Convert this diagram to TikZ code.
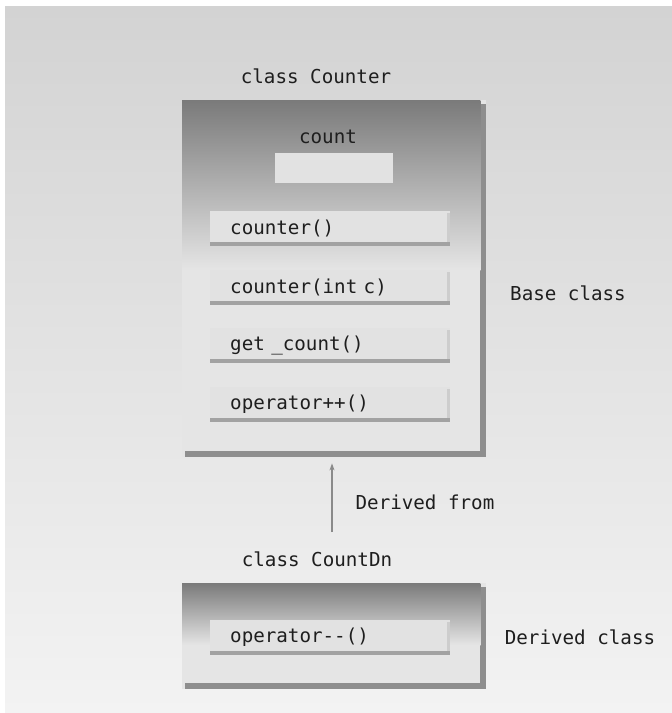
\documentclass[tikz,border=0pt]{standalone}
\usepackage{fontspec}
\setmainfont[WordSpace={1,0,0}]{DejaVu Sans Mono}
\setmonofont{DejaVu Sans Mono}
\usetikzlibrary{arrows.meta}
\definecolor{bgtop}{HTML}{D3D3D3}
\definecolor{bgbot}{HTML}{F3F3F3}
\definecolor{boxtop}{HTML}{7A7A7A}
\definecolor{boxbot}{HTML}{E5E5E5}
\definecolor{boxshadow}{HTML}{8E8E8E}
\definecolor{methfill}{HTML}{E2E2E2}
\definecolor{methshadow}{HTML}{A2A2A2}
\definecolor{methright}{HTML}{CDCDCD}
\definecolor{txt}{HTML}{1E1E1E}
\definecolor{arrowc}{HTML}{8A8A8A}
\tikzset{
  lbl/.style={font=\fontsize{19.2}{23}\selectfont, text=txt, inner sep=0pt},
  classbox/.style={fill=boxbot, inner sep=0pt, anchor=north west,
    path picture={
      \fill[boxshadow] ([xshift=-6pt,yshift=-4pt]path picture bounding box.north east) rectangle (path picture bounding box.south east);
      \fill[boxshadow] ([xshift=3pt]path picture bounding box.south west) rectangle ([yshift=6pt]path picture bounding box.south east);
    }},
  boxgrad/.style={top color=boxtop, bottom color=boxbot},
  methbox/.style={fill=methfill, anchor=north west, minimum width=240pt, minimum height=35pt,
    text width=200pt, align=left, inner xsep=20pt, inner ysep=0pt,
    font=\fontsize{19.2}{23}\selectfont, text=txt,
    path picture={
      \fill[methright] ([xshift=-3pt,yshift=-2pt]path picture bounding box.north east) rectangle (path picture bounding box.south east);
      \fill[methshadow] (path picture bounding box.south west) rectangle ([yshift=4pt]path picture bounding box.south east);
    }},
  fieldbox/.style={fill=methfill, anchor=north west, minimum width=118pt, minimum height=30pt, inner sep=0pt},
  inherit/.style={draw=arrowc, line width=1.8pt, -{Stealth[length=7pt,width=5pt]}}
}
\begin{document}
\begin{tikzpicture}[x=1pt,y=-1pt]
\useasboundingbox (0,0) rectangle (672,713);
\fill[white] (0,0) rectangle (672,713);
\shade[top color=bgtop, bottom color=bgbot] (5,6) rectangle (672,713);

% base class
\node[lbl] (cntlabel) at (316,76) {class Counter};
\node[classbox, minimum width=304pt, minimum height=357pt] (counter) at (182,100) {};
\shade[boxgrad] (counter.north west) rectangle ([xshift=-6pt,yshift=-170pt]counter.north east);
\node[lbl] (countlbl) at (328,137) {count};
\node[fieldbox] (countfield) at (275,153) {};
\node[methbox] (m1) at (210,211) {counter()};
\node[methbox] (m2) at (210,270) {counter(int c)};
\node[methbox] (m3) at (210,328) {get \_count()};
\node[methbox] (m4) at (210,387) {operator++()};
\node[lbl] (baselbl) at (568,293) {Base class};

% derived class
\node[lbl] (dnlabel) at (317,559) {class CountDn};
\node[classbox, minimum width=304pt, minimum height=106pt] (countdn) at (182,583) {};
\shade[boxgrad] (countdn.north west) rectangle ([xshift=-6pt,yshift=-62pt]countdn.north east);
\node[methbox] (m5) at (210,620) {operator-{}-()};
\node[lbl] (derlbl) at (580,637) {Derived class};

% inheritance arrow
\coordinate (arrstart) at (332,532);
\draw[inherit] (arrstart) -- ([yshift=-6pt]arrstart |- counter.south);
\node[lbl] (fromlbl) at (425,502) {Derived from};
\end{tikzpicture}
\end{document}
